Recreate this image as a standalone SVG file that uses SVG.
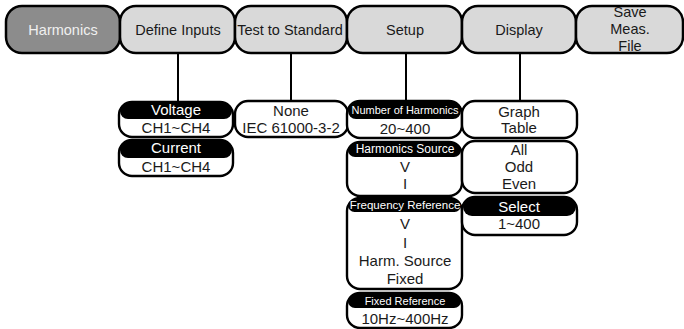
<svg xmlns="http://www.w3.org/2000/svg" width="684" height="329" viewBox="0 0 684 329">
<style>
.btn{fill:#d9d9d9;stroke:#000;stroke-width:2.5}
.btn.on{fill:#8c8c8c}
.bt{font-family:"Liberation Sans",Arial,sans-serif;font-size:14.5px;fill:#1a1a1a;text-anchor:middle}
.bt.on{fill:#f0f0f0}
.box{fill:#fff;stroke:#000;stroke-width:2.4}
.hd{fill:#000}
.t{font-family:"Liberation Sans",Arial,sans-serif;font-size:15px;fill:#1a1a1a;text-anchor:middle}
.ht{font-family:"Liberation Sans",Arial,sans-serif;fill:#fff;text-anchor:middle}
.ln{stroke:#000;stroke-width:2;fill:none}
</style>
<rect width="684" height="329" fill="#fff"/>
<g id="connectors">
<line class="ln" x1="178" y1="53" x2="178" y2="102"/>
<line class="ln" x1="291" y1="53" x2="291" y2="101"/>
<line class="ln" x1="406" y1="53" x2="406" y2="101"/>
<line class="ln" x1="520" y1="53" x2="520" y2="101"/>
</g>
<g id="btn-harmonics"><rect class="btn on" x="6" y="6" width="114" height="47" rx="16"/><text class="bt on" x="63" y="35">Harmonics</text></g>
<g id="btn-define"><rect class="btn" x="120" y="6" width="115" height="47" rx="16"/><text class="bt" x="178" y="35">Define Inputs</text></g>
<g id="btn-test"><rect class="btn" x="235" y="6" width="112" height="47" rx="16"/><text class="bt" x="290" y="35">Test to Standard</text></g>
<g id="btn-setup"><rect class="btn" x="347" y="6" width="115" height="47" rx="16"/><text class="bt" x="405" y="35">Setup</text></g>
<g id="btn-display"><rect class="btn" x="462" y="6" width="114" height="47" rx="16"/><text class="bt" x="519" y="35">Display</text></g>
<g id="btn-save"><rect class="btn" x="576" y="6" width="107" height="47" rx="16"/><text class="bt" x="630" y="17">Save</text><text class="bt" x="630" y="34">Meas.</text><text class="bt" x="630" y="51">File</text></g>

<g id="voltage"><rect class="box" x="119" y="102" width="114" height="35" rx="13"/><rect class="hd" x="120" y="103" width="112" height="16" rx="8"/><text class="ht" x="176" y="115" font-size="15px">Voltage</text><text class="t" x="176" y="133">CH1~CH4</text></g>
<g id="current"><rect class="box" x="119" y="140" width="114" height="36" rx="13"/><rect class="hd" x="120" y="141" width="112" height="17" rx="8"/><text class="ht" x="176" y="153" font-size="15px">Current</text><text class="t" x="176" y="172">CH1~CH4</text></g>
<g id="standard"><rect class="box" x="235" y="101" width="113" height="36" rx="13"/><text class="t" x="291" y="116">None</text><text class="t" x="291" y="133">IEC 61000-3-2</text></g>

<g id="num-harm"><rect class="box" x="347" y="101" width="115" height="37" rx="13"/><rect class="hd" x="348" y="102" width="113" height="17" rx="8"/><text class="ht" x="405" y="114" font-size="11px">Number of Harmonics</text><text class="t" x="405" y="134">20~400</text></g>
<g id="harm-source"><rect class="box" x="347" y="142" width="115" height="54" rx="13"/><rect class="hd" x="348" y="143" width="113" height="14" rx="7"/><text class="ht" x="405" y="153" font-size="12px">Harmonics Source</text><text class="t" x="405" y="172">V</text><text class="t" x="405" y="189">I</text></g>
<g id="freq-ref"><rect class="box" x="347" y="198" width="115" height="91" rx="13"/><rect class="hd" x="348" y="199" width="113" height="13" rx="6.5"/><text class="ht" x="405" y="209" font-size="11.5px">Frequency Reference</text><text class="t" x="405" y="229">V</text><text class="t" x="405" y="248">I</text><text class="t" x="405" y="266">Harm. Source</text><text class="t" x="405" y="284">Fixed</text></g>
<g id="fixed-ref"><rect class="box" x="347" y="293" width="115" height="35" rx="13"/><rect class="hd" x="348" y="294" width="113" height="14" rx="7"/><text class="ht" x="405" y="305" font-size="11px">Fixed Reference</text><text class="t" x="405" y="324">10Hz~400Hz</text></g>

<g id="graph-table"><rect class="box" x="462" y="101" width="115" height="37" rx="13"/><text class="t" x="519" y="117">Graph</text><text class="t" x="519" y="133">Table</text></g>
<g id="all-odd-even"><rect class="box" x="462" y="141" width="115" height="52" rx="13"/><text class="t" x="519" y="155">All</text><text class="t" x="519" y="172">Odd</text><text class="t" x="519" y="189">Even</text></g>
<g id="select"><rect class="box" x="462" y="197" width="115" height="38" rx="13"/><rect class="hd" x="463" y="198" width="113" height="18" rx="9"/><text class="ht" x="519" y="212" font-size="15px">Select</text><text class="t" x="519" y="229">1~400</text></g>
</svg>
